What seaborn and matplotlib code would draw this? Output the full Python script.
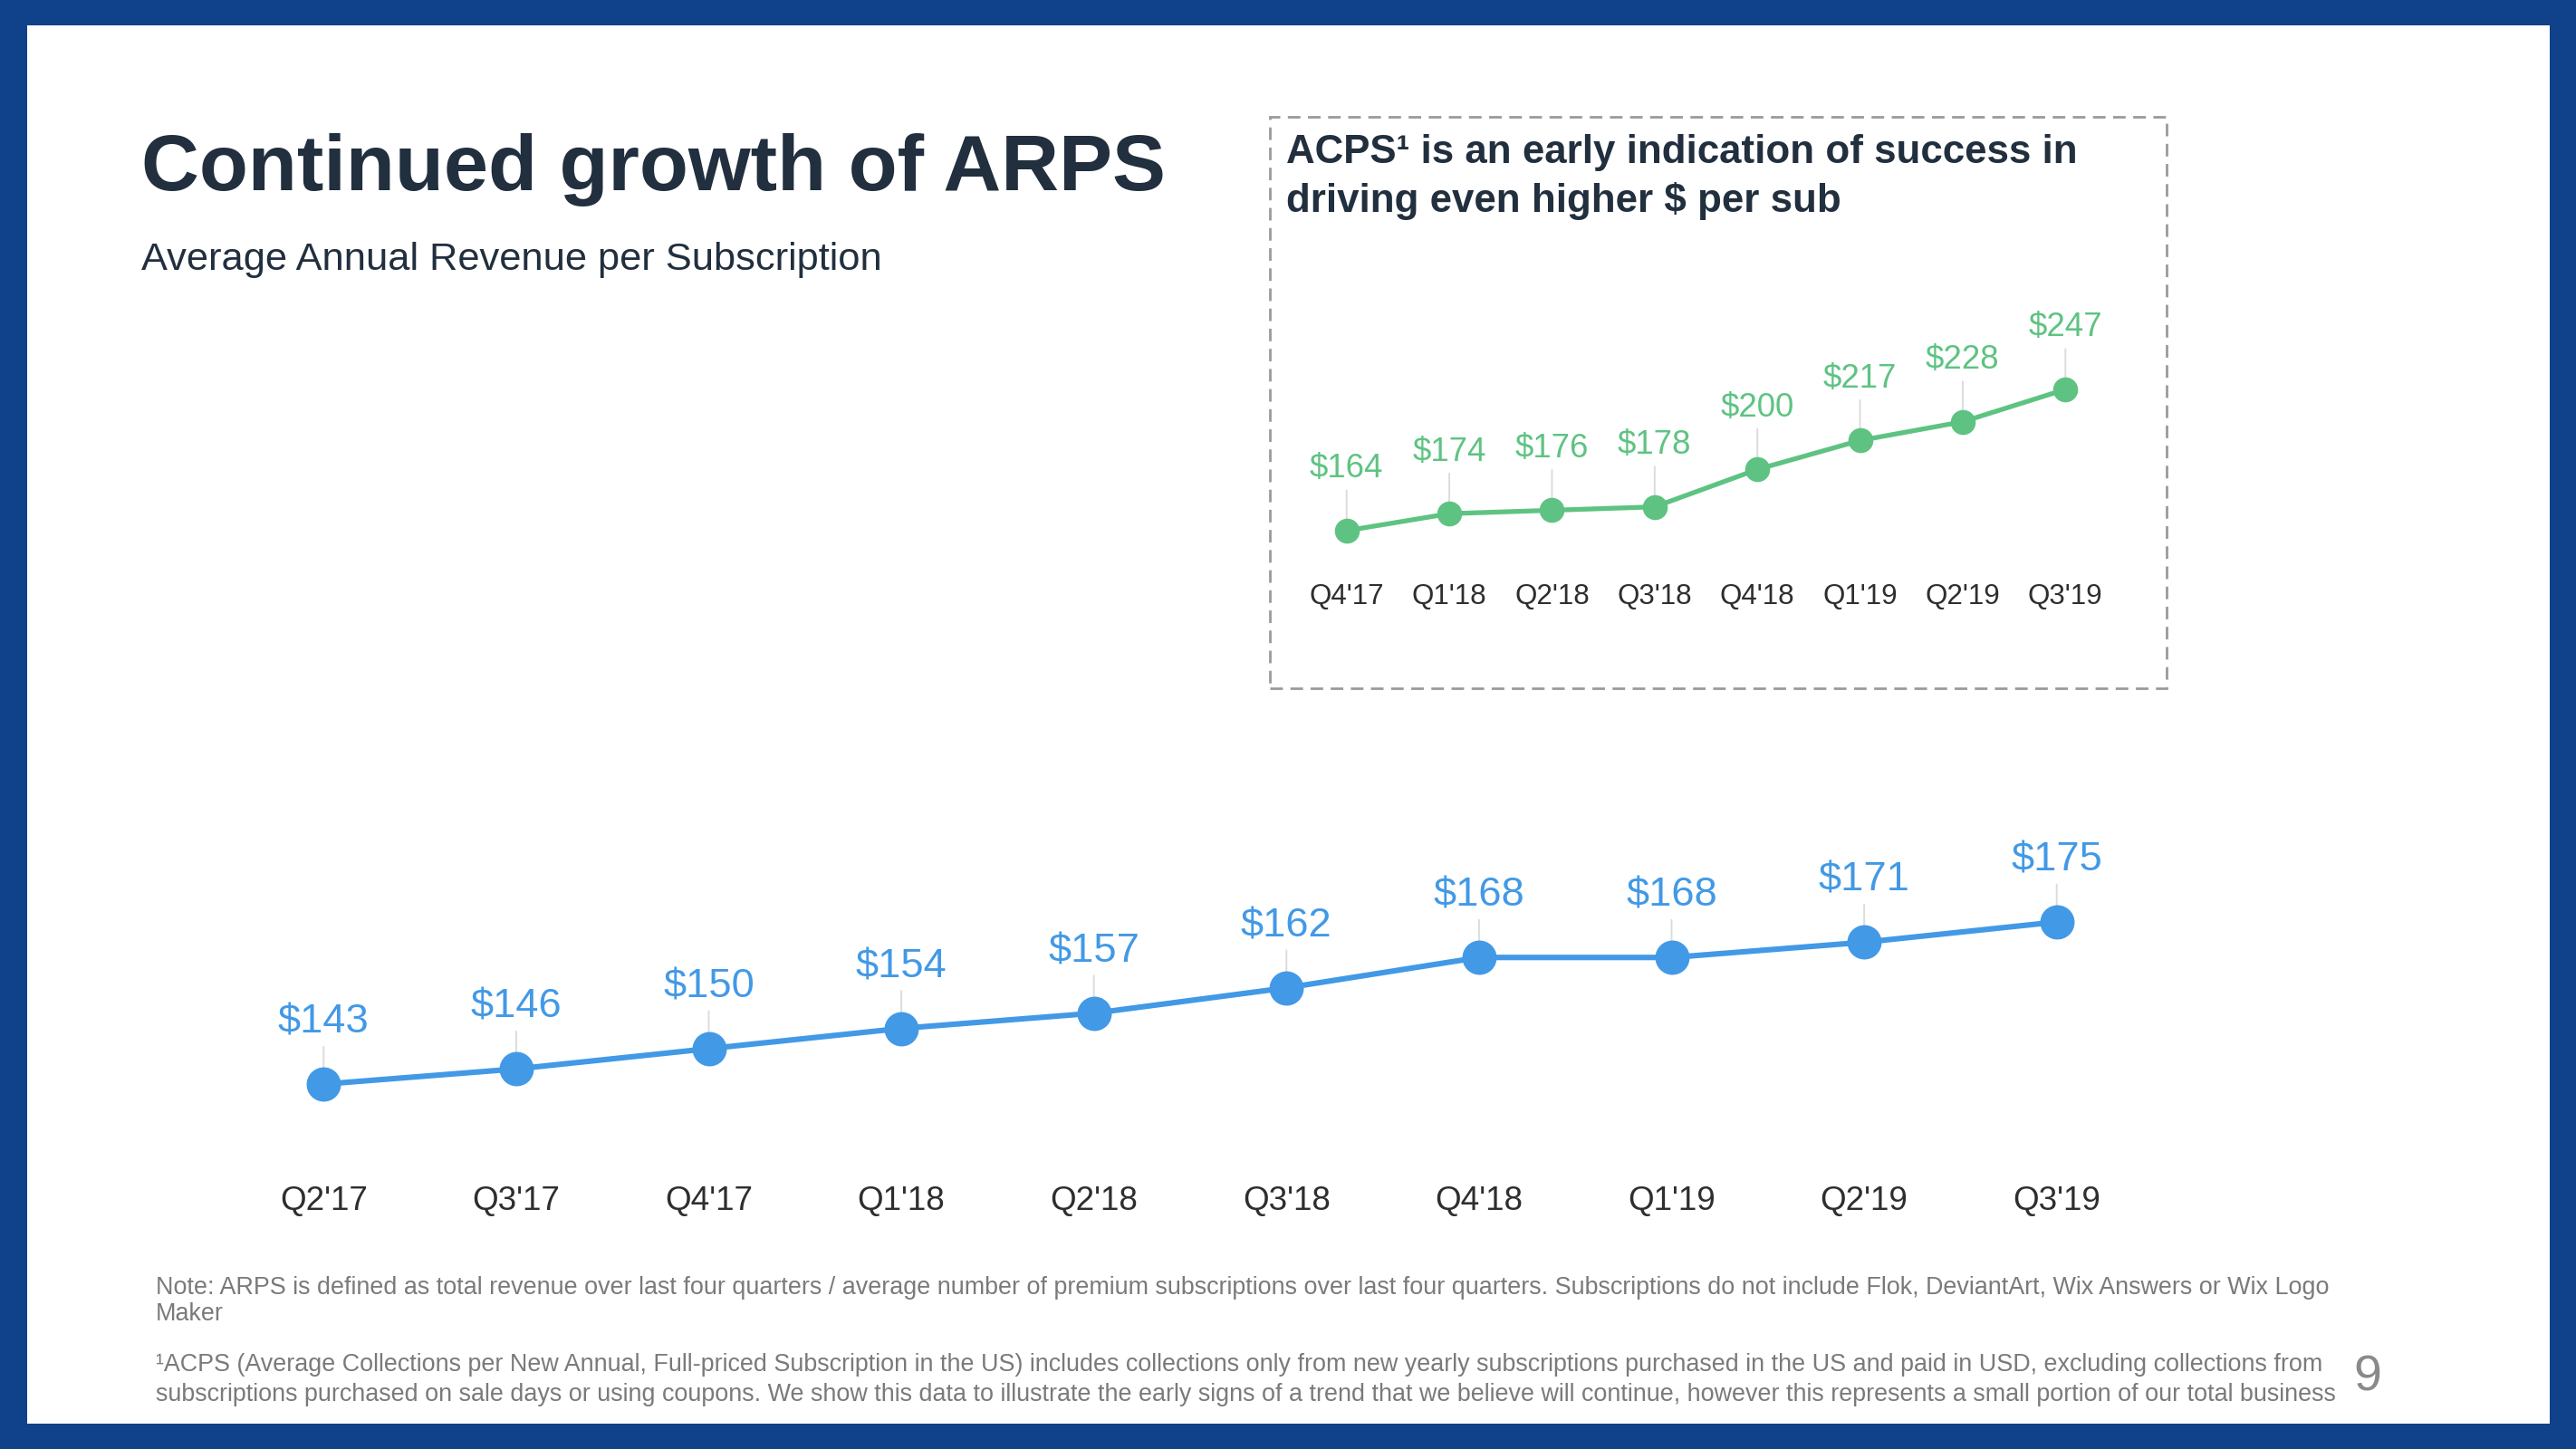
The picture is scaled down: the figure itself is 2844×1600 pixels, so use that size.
import matplotlib
matplotlib.use("Agg")
import matplotlib.pyplot as plt
import seaborn as sns
import pandas as pd
from matplotlib.patches import Rectangle

# data
arps_quarters = ["Q2'17", "Q3'17", "Q4'17", "Q1'18", "Q2'18",
                 "Q3'18", "Q4'18", "Q1'19", "Q2'19", "Q3'19"]
arps_values = [143, 146, 150, 154, 157, 162, 168, 168, 171, 175]

acps_quarters = ["Q4'17", "Q1'18", "Q2'18", "Q3'18",
                 "Q4'18", "Q1'19", "Q2'19", "Q3'19"]
acps_values = [164, 174, 176, 178, 200, 217, 228, 247]

sns.set_theme(style="white")
plt.rcParams['font.family'] = ['Liberation Sans', 'DejaVu Sans']

W, H = 2844, 1600
BLUE_FRAME = "#10418B"
NAVY = "#212F3E"
BLUE = "#4299E6"
GREEN = "#5EC382"
TICK = "#2e2e2e"
NOTE = "#7A7A7A"

fig = plt.figure(figsize=(W / 200, H / 200), dpi=200)
fig.patch.set_facecolor(BLUE_FRAME)


def fx(px):
    return px / W


def fy(py):
    return 1 - py / H


# white slide area
fig.patches.append(Rectangle((fx(30), fy(1572)), fx(2815) - fx(30), fy(28) - fy(1572),
                             transform=fig.transFigure, facecolor="white",
                             edgecolor="none", zorder=-2))

# dashed inset box
fig.patches.append(Rectangle((fx(1402), fy(760)), fx(2392) - fx(1402), fy(129) - fy(760),
                             transform=fig.transFigure, facecolor="none",
                             edgecolor="#9a9a9a", lw=1.0, linestyle=(0, (5, 3)),
                             zorder=-1))

# titles
fig.text(fx(156), fy(210), "Continued growth of ARPS", fontsize=31.8,
         fontweight="bold", color=NAVY, va="baseline")
fig.text(fx(156), fy(298), "Average Annual Revenue per Subscription", fontsize=15.6,
         color=NAVY, va="baseline")
fig.text(fx(1420), fy(180), "ACPS¹ is an early indication of success in", fontsize=15.8,
         fontweight="bold", color=NAVY, va="baseline")
fig.text(fx(1420), fy(234), "driving even higher \\$ per sub", fontsize=15.8,
         fontweight="bold", color=NAVY, va="baseline")


def draw_series(ax, quarters, values, color, lw, ms, label_size, tick_size, offset, pad):
    df = pd.DataFrame({"quarter": quarters, "value": values})
    sns.pointplot(data=df, x="quarter", y="value", color=color, ax=ax,
                  markers="o", markersize=ms, linewidth=lw, errorbar=None)
    for i, v in enumerate(values):
        ax.annotate("\\$" + str(v), xy=(i, v), xytext=(0, offset),
                    textcoords="offset points", ha="center", va="center",
                    fontsize=label_size, color=color,
                    arrowprops=dict(arrowstyle="-", color="#dcdcdc", lw=0.7,
                                    shrinkA=0, shrinkB=0),
                    zorder=1)
    ax.set_xlabel("")
    ax.set_ylabel("")
    ax.set_yticks([])
    ax.tick_params(axis="x", length=0, pad=pad, labelsize=tick_size, labelcolor=TICK)
    for s in ax.spines.values():
        s.set_visible(False)
    ax.patch.set_alpha(0)
    ax.set_zorder(5)
    for c in ax.collections:
        c.set_zorder(3)
    for ln in ax.lines:
        ln.set_zorder(2)


# main chart
ax = fig.add_axes([fx(251), fy(1290), fx(2377) - fx(251), fy(900) - fy(1290)])
draw_series(ax, arps_quarters, arps_values, BLUE, 2.2, 12, 16.3, 13.3, 24.5, 7)
ax.set_xlim(-0.5, len(arps_quarters) - 0.5)
ax.set_ylim(126.4, 196.1)

# inset chart
ax2 = fig.add_axes([fx(1430), fy(620), fx(2337) - fx(1430), fy(380) - fy(620)])
draw_series(ax2, acps_quarters, acps_values, GREEN, 1.9, 8.5, 13.2, 11.3, 24.5, 8.5)
ax2.set_xlim(-0.5, len(acps_quarters) - 0.5)
ax2.set_ylim(145.9, 273.6)

# footnotes
notes = [
    (1422, "Note: ARPS is defined as total revenue over last four quarters / average number of premium "
           "subscriptions over last four quarters. Subscriptions do not include Flok, DeviantArt, Wix Answers or Wix Logo"),
    (1451, "Maker"),
    (1507, "¹ACPS (Average Collections per New Annual, Full-priced Subscription in the US) includes collections "
           "only from new yearly subscriptions purchased in the US and paid in USD, excluding collections from"),
    (1540, "subscriptions purchased on sale days or using coupons. We show this data to illustrate the early signs "
           "of a trend that we believe will continue, however this represents a small portion of our total business"),
]
for y, t in notes:
    fig.text(fx(172), fy(y), t, fontsize=9.7, color=NOTE, va="center")

fig.text(fx(2614), fy(1522), "9", fontsize=20, color="#8a8a8a", ha="center", va="center")

fig.savefig("out.png", dpi=200, facecolor=fig.get_facecolor())
